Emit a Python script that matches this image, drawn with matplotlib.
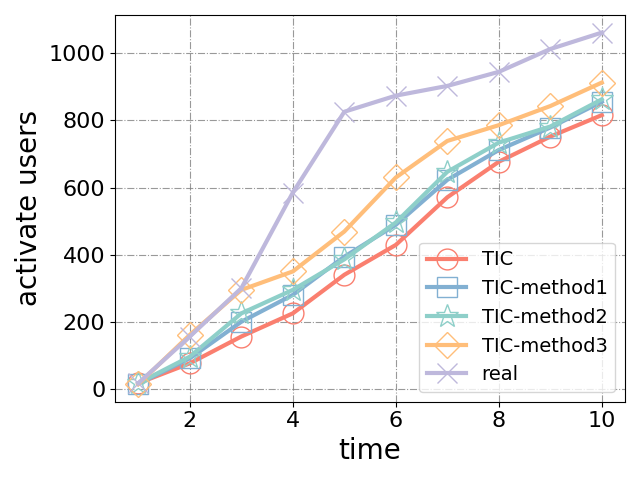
import matplotlib
matplotlib.use('Agg')
import matplotlib.pyplot as plt

# Data
time = [1, 2, 3, 4, 5, 6, 7, 8, 9, 10]
tic = [17, 76, 156, 225, 340, 429, 571, 677, 752, 816]
tic_method1 = [15, 91, 200, 280, 394, 489, 623, 712, 779, 856]
tic_method2 = [17, 96, 225, 295, 386, 496, 647, 734, 782, 863]
tic_method3 = [14, 161, 295, 350, 469, 630, 739, 786, 843, 913]
real = [17, 156, 300, 585, 826, 874, 903, 945, 1013, 1062]

series_names = ['TIC', 'TIC-method1', 'TIC-method2', 'TIC-method3', 'real']
series_values = [tic, tic_method1, tic_method2, tic_method3, real]
colors = ['#FA7F6F', '#82B0D2', '#8ECFC9', '#FFBE7A', '#BEB8DC']
markers = ['o', 's', '*', 'D', 'x']

fig, ax = plt.subplots(figsize=(6.4, 4.8), dpi=100)

for name, values, color, marker in zip(series_names, series_values, colors, markers):
    ms = 15
    if marker == 'D':
        ms = 13
    if marker == '*':
        ms = 17
    ax.plot(time, values, color=color, linewidth=3, marker=marker,
            markersize=ms, markerfacecolor='none', markeredgecolor=color,
            markeredgewidth=1, label=name)

ax.grid(True, linestyle='-.', color='gray', alpha=0.8)
ax.set_xlabel('time', fontsize=20)
ax.set_ylabel('activate users', fontsize=20)
ax.tick_params(labelsize=16)
ax.legend(fontsize=14, loc='lower right')

plt.tight_layout()
plt.savefig('out.png', dpi=100)
